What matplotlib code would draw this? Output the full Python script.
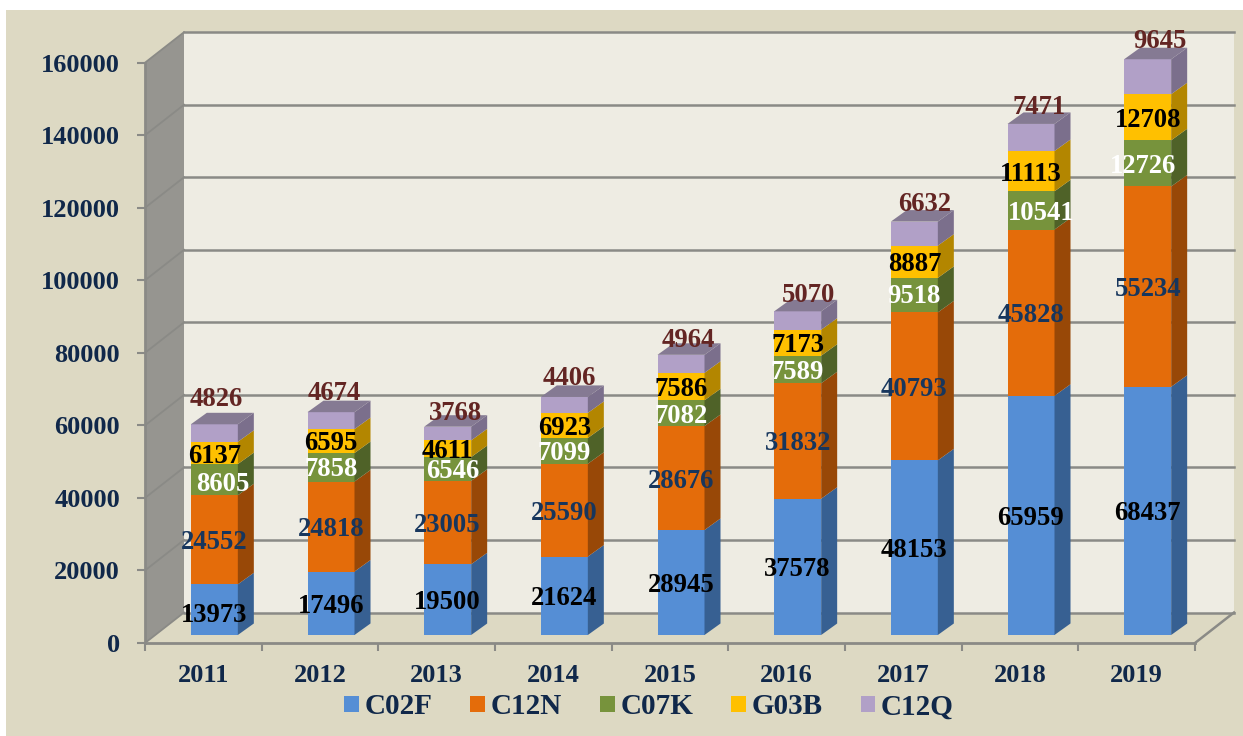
import matplotlib
matplotlib.use("Agg")
import numpy as np
import matplotlib.pyplot as plt
from matplotlib.patches import Rectangle
from matplotlib.transforms import Affine2D

years = ['2011', '2012', '2013', '2014', '2015', '2016', '2017', '2018', '2019']
names = ['C02F', 'C12N', 'C07K', 'G03B', 'C12Q']

c02f = [13973, 17496, 19500, 21624, 28945, 37578, 48153, 65959, 68437]
c12n = [24552, 24818, 23005, 25590, 28676, 31832, 40793, 45828, 55234]
c07k = [8605, 7858, 6546, 7099, 7082, 7589, 9518, 10541, 12726]
g03b = [6137, 6595, 4611, 6923, 7586, 7173, 8887, 11113, 12708]
c12q = [4826, 4674, 3768, 4406, 4964, 5070, 6632, 7471, 9645]
series = [c02f, c12n, c07k, g03b, c12q]

yticks = [0, 20000, 40000, 60000, 80000, 100000, 120000, 140000, 160000]

# цвета: передняя грань, боковая грань, подпись
front = ['#558ED5', '#E46C0A', '#77933C', '#FFC000', '#B1A0C7']
side = ['#376092', '#984807', '#4F6228', '#B38600', '#7B6F8C']
label_colors = ['#000000', '#17365D', '#FFFFFF', '#000000', '#632523']
top_color = '#857A93'
panel = '#DDD9C3'
wall = '#EEECE3'
side_wall = '#969590'
grid_color = '#8A8A86'
navy = '#10284A'

plt.rcParams['font.family'] = ['Liberation Serif', 'DejaVu Serif']
plt.rcParams['font.weight'] = 'bold'

W, H = 1243, 736
fig = plt.figure(figsize=(W / 100, H / 100), dpi=100, facecolor='white')
fig.add_artist(Rectangle((6 / W, 0), 1 - 6 / W, 1 - 10 / H, transform=fig.transFigure,
                         facecolor=panel, edgecolor='none', zorder=-5))

ax = fig.add_axes([145 / W, (H - 643) / H, 1050 / W, 580.3 / H])
ax.patch.set_visible(False)
ax.set_xlim(-0.5, 8.5)
ax.set_ylim(0, 160000)

# глубина стены и столбиков в единицах данных
px_x = 9 / 1050
px_y = 160000 / 580.3
wall_dx, wall_dy = 39 * px_x, 30.5 * px_y
bar_dx, bar_dy = 16 * px_x, 11.5 * px_y
bar_w = 47 * px_x

back = ax.transData + Affine2D().translate(39, 30.5)
shift = ax.transData + Affine2D().translate(11, 8)

# задняя стена, боковая стена
ax.add_patch(Rectangle((-0.5, 0), 9, 160000, transform=back, facecolor=wall,
                       edgecolor='none', clip_on=False, zorder=0))
ax.fill([-0.5, -0.5 + wall_dx, -0.5 + wall_dx, -0.5],
        [0, wall_dy, 160000 + wall_dy, 160000],
        color=side_wall, lw=0, clip_on=False, zorder=0)

# сетка
for v in yticks:
    ax.plot([-0.5, 8.5], [v, v], transform=back, color=grid_color, lw=1.8,
            clip_on=False, zorder=1)
    ax.plot([-0.5, -0.5 + wall_dx], [v, v + wall_dy], color=grid_color, lw=1.3,
            clip_on=False, zorder=1)
ax.plot([8.5, 8.5 + wall_dx], [0, wall_dy], color=grid_color, lw=1.8, clip_on=False, zorder=1)

# столбики
x = np.arange(len(years))
bottom = np.zeros(len(years))
for s, vals in enumerate(series):
    ax.bar(x, vals, bottom=bottom, width=bar_w, color=front[s], linewidth=0,
           transform=shift, clip_on=False, zorder=3, label=names[s])
    for i in x:
        r = i + bar_w / 2
        ax.fill([r, r + bar_dx, r + bar_dx, r],
                [bottom[i], bottom[i] + bar_dy, bottom[i] + vals[i] + bar_dy, bottom[i] + vals[i]],
                color=side[s], lw=0, transform=shift, clip_on=False, zorder=3)
    bottom = bottom + np.array(vals)

for i in x:
    l, r = i - bar_w / 2, i + bar_w / 2
    t = bottom[i]
    ax.fill([l, r, r + bar_dx, l + bar_dx], [t, t, t + bar_dy, t + bar_dy],
            color=top_color, lw=0, transform=shift, clip_on=False, zorder=3)

# подписи, сдвиги в пикселях для тех, что стоят не по центру
nudges = {(0, 0): (0, -3), (2, 0): (8, -2), (3, 0): (0, -1),
          (2, 1): (0, 1), (3, 1): (0, 1),
          (2, 2): (5, 0),
          (2, 6): (0, 2), (2, 7): (10, 0), (2, 8): (-5, 0)}
top_nudges = [(2, -28), (3, -22), (8, -16), (5, -21), (7, -17), (11, -19), (10, -20), (8, -19), (12, -21)]

bottom = np.zeros(len(years))
for s, vals in enumerate(series):
    for i in x:
        mid = bottom[i] + vals[i] / 2
        if s == 4:
            dx, dy = top_nudges[i]
            y = bottom[i] + vals[i]
            tr = shift + Affine2D().translate(dx, -dy)
        else:
            dx, dy = nudges.get((s, i), (0, 0))
            y = mid
            tr = shift + Affine2D().translate(dx, dy)
        ax.text(i, y, str(vals[i]), transform=tr, ha='center', va='center_baseline',
                fontsize=19.2, fontweight='bold', color=label_colors[s],
                clip_on=False, zorder=5)
    bottom = bottom + np.array(vals)

# оси
for name in ['top', 'right']:
    ax.spines[name].set_visible(False)
for name in ['left', 'bottom']:
    ax.spines[name].set_color(grid_color)
    ax.spines[name].set_linewidth(2)
    ax.spines[name].set_zorder(2)

ax.set_yticks(yticks)
ax.tick_params(axis='y', length=6, width=1.5, color=grid_color, pad=12,
               labelsize=19, labelcolor=navy)
ax.set_xticks(np.arange(-0.5, 9, 1))
ax.set_xticklabels([])
ax.tick_params(axis='x', which='major', length=6, width=1.5, color=grid_color)
ax.set_xticks(x, minor=True)
ax.set_xticklabels(years, minor=True)
ax.tick_params(axis='x', which='minor', length=0, pad=15, labelsize=19, labelcolor=navy)

leg = ax.legend(loc='center', bbox_to_anchor=(649 / W, (H - 707) / H),
                bbox_transform=fig.transFigure, ncol=5, frameon=False,
                fontsize=21, handlelength=0.5, handleheight=0.5,
                handletextpad=0.2, columnspacing=1.3, labelcolor=navy)

fig.savefig('out.png', dpi=100, facecolor=fig.get_facecolor())
